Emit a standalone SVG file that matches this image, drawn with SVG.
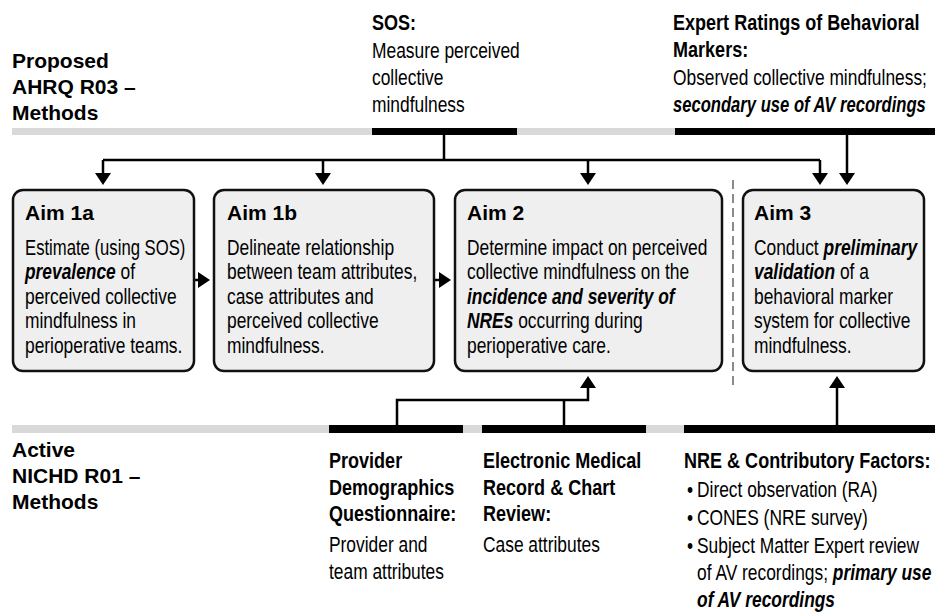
<svg xmlns="http://www.w3.org/2000/svg" width="935" height="616" viewBox="0 0 935 616">
<style>
.lbl{font-family:"Liberation Sans",Arial,sans-serif;font-weight:bold;font-size:21px;fill:#000}
.hd{font-family:"Liberation Sans",Arial,sans-serif;font-weight:bold;font-size:22px;fill:#000}
.tx{font-family:"Liberation Sans",Arial,sans-serif;font-size:22px;fill:#000}
.bi{font-weight:bold;font-style:italic}
.box{fill:#efefef;stroke:#111;stroke-width:2.5}
.ln{stroke:#000;stroke-width:2.5;fill:none}
.gbar{fill:#d9d9d9}
.kbar{fill:#000}
</style>
<defs>
<marker id="ah" viewBox="0 0 12 16" refX="8" refY="8" markerWidth="12" markerHeight="16" markerUnits="userSpaceOnUse" orient="auto">
<path d="M0,0 L12,8 L0,16 z" fill="#000"/>
</marker>
</defs>
<g id="bars">
<rect class="gbar" x="12" y="128" width="360" height="7"/>
<rect class="kbar" x="372" y="128" width="145" height="7"/>
<rect class="gbar" x="517" y="128" width="158" height="7"/>
<rect class="kbar" x="675" y="128" width="260" height="7"/>
<rect class="gbar" x="12" y="425" width="317" height="8"/>
<rect class="kbar" x="329" y="425" width="134" height="8"/>
<rect class="gbar" x="463" y="425" width="19" height="8"/>
<rect class="kbar" x="482" y="425" width="164" height="8"/>
<rect class="gbar" x="646" y="425" width="38" height="8"/>
<rect class="kbar" x="684" y="425" width="251" height="8"/>
</g>
<g id="labels">
<text class="lbl" x="12" y="68">Proposed</text>
<text class="lbl" x="12" y="94">AHRQ R03 –</text>
<text class="lbl" x="12" y="120">Methods</text>
<text class="lbl" x="12" y="457">Active</text>
<text class="lbl" x="12" y="483">NICHD R01 –</text>
<text class="lbl" x="12" y="509">Methods</text>
</g>
<g id="sos" transform="translate(372,0)">
<g transform="scale(0.82,1)">
<text class="hd" x="0" y="30">SOS:</text>
</g>
<g transform="scale(0.79,1)">
<text class="tx" x="0" y="58">Measure perceived</text>
<text class="tx" x="0" y="85">collective</text>
<text class="tx" x="0" y="112">mindfulness</text>
</g>
</g>
<g id="expert" transform="translate(673,0)">
<g transform="scale(0.82,1)">
<text class="hd" x="0" y="30">Expert Ratings of Behavioral</text>
<text class="hd" x="0" y="57">Markers:</text>
</g>
<g transform="scale(0.79,1)">
<text class="tx" x="0" y="85">Observed collective mindfulness;</text>
<text class="tx bi" x="0" y="112" textLength="320" lengthAdjust="spacingAndGlyphs">secondary use of AV recordings</text>
</g>
</g>
<g id="connectors">
<path class="ln" d="M444,135 V160"/>
<path class="ln" d="M103,160 H820"/>
<path class="ln" d="M103,160 V181" marker-end="url(#ah)"/>
<path class="ln" d="M323,160 V181" marker-end="url(#ah)"/>
<path class="ln" d="M588,160 V181" marker-end="url(#ah)"/>
<path class="ln" d="M820,160 V181" marker-end="url(#ah)"/>
<path class="ln" d="M847,135 V181" marker-end="url(#ah)"/>
<path class="ln" d="M194,280 H206" marker-end="url(#ah)"/>
<path class="ln" d="M434,280 H447" marker-end="url(#ah)"/>
<path class="ln" d="M397,425 V400 H588 V380" marker-end="url(#ah)"/>
<path class="ln" d="M564,425 V400"/>
<path class="ln" d="M837,425 V380" marker-end="url(#ah)"/>
<path d="M733,180 V386" stroke="#666" stroke-width="1.5" stroke-dasharray="9,5" fill="none"/>
</g>
<g id="aim1a">
<rect class="box" x="13" y="190" width="181" height="181" rx="10"/>
<text class="lbl" x="25" y="220">Aim 1a</text>
<g transform="translate(25,0) scale(0.79,1)">
<text class="tx" x="0" y="255" textLength="203" lengthAdjust="spacingAndGlyphs">Estimate (using SOS)</text>
<text class="tx" x="0" y="279"><tspan class="bi">prevalence</tspan> of</text>
<text class="tx" x="0" y="304">perceived collective</text>
<text class="tx" x="0" y="328">mindfulness in</text>
<text class="tx" x="0" y="353">perioperative teams.</text>
</g>
</g>
<g id="aim1b">
<rect class="box" x="214" y="190" width="220" height="181" rx="10"/>
<text class="lbl" x="227" y="220">Aim 1b</text>
<g transform="translate(227,0) scale(0.79,1)">
<text class="tx" x="0" y="255">Delineate relationship</text>
<text class="tx" x="0" y="279">between team attributes,</text>
<text class="tx" x="0" y="304">case attributes and</text>
<text class="tx" x="0" y="328">perceived collective</text>
<text class="tx" x="0" y="353">mindfulness.</text>
</g>
</g>
<g id="aim2">
<rect class="box" x="455" y="190" width="267" height="181" rx="10"/>
<text class="lbl" x="467" y="220">Aim 2</text>
<g transform="translate(467,0) scale(0.79,1)">
<text class="tx" x="0" y="255">Determine impact on perceived</text>
<text class="tx" x="0" y="279">collective mindfulness on the</text>
<text class="tx bi" x="0" y="304">incidence and severity of</text>
<text class="tx" x="0" y="328"><tspan class="bi">NREs</tspan> occurring during</text>
<text class="tx" x="0" y="353">perioperative care.</text>
</g>
</g>
<g id="aim3">
<rect class="box" x="743" y="190" width="181" height="181" rx="10"/>
<text class="lbl" x="754" y="220">Aim 3</text>
<g transform="translate(754,0) scale(0.79,1)">
<text class="tx" x="0" y="255">Conduct <tspan class="bi">preliminary</tspan></text>
<text class="tx" x="0" y="279"><tspan class="bi">validation</tspan> of a</text>
<text class="tx" x="0" y="304">behavioral marker</text>
<text class="tx" x="0" y="328">system for collective</text>
<text class="tx" x="0" y="353">mindfulness.</text>
</g>
</g>
<g id="provider" transform="translate(329,0)">
<g transform="scale(0.82,1)">
<text class="hd" x="0" y="468">Provider</text>
<text class="hd" x="0" y="495">Demographics</text>
<text class="hd" x="0" y="521">Questionnaire:</text>
</g>
<g transform="scale(0.79,1)">
<text class="tx" x="0" y="552">Provider and</text>
<text class="tx" x="0" y="579">team attributes</text>
</g>
</g>
<g id="emr" transform="translate(483,0)">
<g transform="scale(0.82,1)">
<text class="hd" x="0" y="468">Electronic Medical</text>
<text class="hd" x="0" y="495">Record &amp; Chart</text>
<text class="hd" x="0" y="521">Review:</text>
</g>
<g transform="scale(0.79,1)">
<text class="tx" x="0" y="552">Case attributes</text>
</g>
</g>
<g id="nre" transform="translate(684,0)">
<g transform="scale(0.82,1)">
<text class="hd" x="0" y="468">NRE &amp; Contributory Factors:</text>
</g>
<g transform="scale(0.79,1)">
<text class="tx" x="3.8" y="497">•</text>
<text class="tx" x="16.5" y="497">Direct observation (RA)</text>
<text class="tx" x="3.8" y="525">•</text>
<text class="tx" x="16.5" y="525">CONES (NRE survey)</text>
<text class="tx" x="3.8" y="553">•</text>
<text class="tx" x="16.5" y="553">Subject Matter Expert review</text>
<text class="tx" x="16.5" y="580">of AV recordings; <tspan class="bi">primary use</tspan></text>
<text class="tx bi" x="16.5" y="607">of AV recordings</text>
</g>
</g>
</svg>
